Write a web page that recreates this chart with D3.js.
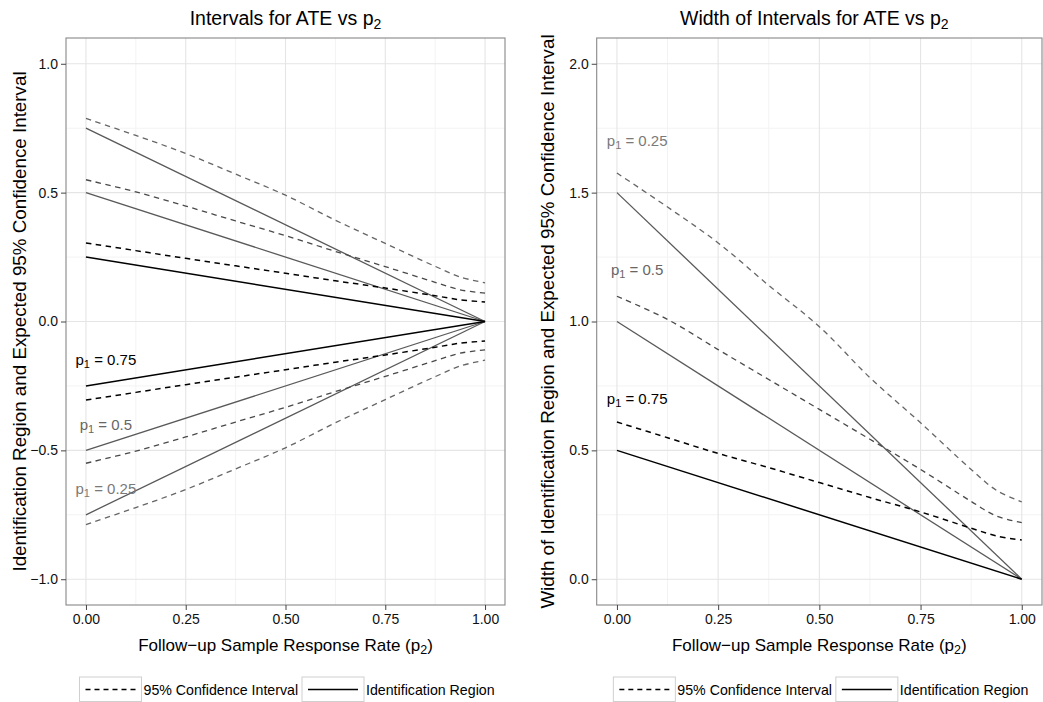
<!DOCTYPE html>
<html>
<head>
<meta charset="utf-8">
<script src="https://cdn.jsdelivr.net/npm/d3@7"></script>
<style>
  body { margin: 0; background: #fff; }
  svg { font-family: 'Liberation Sans', Arial, Helvetica, sans-serif; }
</style>
</head>
<body>
<svg width="1043" height="702"></svg>
<script>
// follow-up response rate grid the curves were read at
const p2 = [0, 0.125, 0.25, 0.375, 0.5, 0.625, 0.75, 0.875, 0.9375, 1];
const idP2 = [0, 1];
const p1Levels = ['0.25', '0.5', '0.75'];

// left panel: identification region bounds (straight lines)
const idUpper = { '0.25': [0.75, 0], '0.5': [0.5, 0], '0.75': [0.25, 0] };
const idLower = { '0.25': [-0.75, 0], '0.5': [-0.5, 0], '0.75': [-0.25, 0] };

// left panel: expected 95% CI bounds
const ciUpper25 = [0.788, 0.722, 0.652, 0.572, 0.49, 0.393, 0.303, 0.214, 0.173, 0.15];
const ciUpper50 = [0.55, 0.503, 0.448, 0.39, 0.333, 0.272, 0.213, 0.152, 0.123, 0.11];
const ciUpper75 = [0.305, 0.275, 0.245, 0.216, 0.187, 0.158, 0.13, 0.1, 0.084, 0.076];
const ciLower25 = [-0.788, -0.722, -0.652, -0.572, -0.49, -0.393, -0.303, -0.214, -0.173, -0.15];
const ciLower50 = [-0.55, -0.503, -0.448, -0.39, -0.333, -0.272, -0.213, -0.152, -0.123, -0.11];
const ciLower75 = [-0.305, -0.275, -0.245, -0.216, -0.187, -0.158, -0.13, -0.1, -0.084, -0.076];

// right panel: widths
const idWidth = { '0.25': [1.5, 0], '0.5': [1.0, 0], '0.75': [0.5, 0] };
const ciWidth25 = [1.576, 1.444, 1.305, 1.14, 0.98, 0.782, 0.607, 0.426, 0.345, 0.3];
const ciWidth50 = [1.098, 1.008, 0.891, 0.775, 0.659, 0.543, 0.426, 0.302, 0.245, 0.22];
const ciWidth75 = [0.61, 0.549, 0.488, 0.433, 0.375, 0.317, 0.261, 0.198, 0.168, 0.152];

const xTicks = [0, 0.25, 0.5, 0.75, 1];
const xMinor = [0.125, 0.375, 0.625, 0.875];
const leftTicks = [-1, -0.5, 0, 0.5, 1];
const leftMinor = [-0.75, -0.25, 0.25, 0.75];
const rightTicks = [0, 0.5, 1, 1.5, 2];
const rightMinor = [0.25, 0.75, 1.25, 1.75];

const leftLabelY = { '0.75': -0.15, '0.5': -0.4, '0.25': -0.65 };
const rightLabelY = { '0.75': 0.7, '0.5': 1.2, '0.25': 1.7 };

const solidColor = { '0.25': '#595959', '0.5': '#595959', '0.75': '#000' };
const dashColor = { '0.25': '#666', '0.5': '#4a4a4a', '0.75': '#000' };
const labelColor = { '0.25': '#7a7a7a', '0.5': '#666', '0.75': '#000' };

const TOP = 38;
const BOTTOM = 605;

const svg = d3.select('svg');

function drawPanel(opts) {
  const x = d3.scaleLinear().domain([-0.05, 1.05]).range([opts.left, opts.right]);
  const y = d3.scaleLinear().domain(opts.yDomain).range([BOTTOM, TOP]);
  const g = svg.append('g');

  g.append('rect')
    .attr('x', opts.left)
    .attr('y', TOP)
    .attr('width', opts.right - opts.left)
    .attr('height', BOTTOM - TOP)
    .attr('fill', '#fff');

  // grid
  g.selectAll('.vminor')
    .data(xMinor)
    .enter()
    .append('line')
    .attr('x1', (d) => x(d))
    .attr('x2', (d) => x(d))
    .attr('y1', TOP)
    .attr('y2', BOTTOM)
    .attr('stroke', '#f3f3f3')
    .attr('stroke-width', 1);
  g.selectAll('.hminor')
    .data(opts.minor)
    .enter()
    .append('line')
    .attr('x1', opts.left)
    .attr('x2', opts.right)
    .attr('y1', (d) => y(d))
    .attr('y2', (d) => y(d))
    .attr('stroke', '#f3f3f3')
    .attr('stroke-width', 1);
  g.selectAll('.vmajor')
    .data(xTicks)
    .enter()
    .append('line')
    .attr('x1', (d) => x(d))
    .attr('x2', (d) => x(d))
    .attr('y1', TOP)
    .attr('y2', BOTTOM)
    .attr('stroke', '#e5e5e5')
    .attr('stroke-width', 1.1);
  g.selectAll('.hmajor')
    .data(opts.ticks)
    .enter()
    .append('line')
    .attr('x1', opts.left)
    .attr('x2', opts.right)
    .attr('y1', (d) => y(d))
    .attr('y2', (d) => y(d))
    .attr('stroke', '#e5e5e5')
    .attr('stroke-width', 1.1);

  const line = d3
    .line()
    .x((d) => x(d[0]))
    .y((d) => y(d[1]))
    .curve(d3.curveCatmullRom);

  opts.series.forEach((s) => {
    g.append('path')
      .datum(d3.zip(s.xs, s.ys))
      .attr('d', line)
      .attr('fill', 'none')
      .attr('stroke', s.dashed ? dashColor[s.p1] : solidColor[s.p1])
      .attr('stroke-width', s.p1 === '0.75' ? 1.5 : 1.3)
      .attr('stroke-dasharray', s.dashed ? '5.5,4.5' : null);
  });

  // p1 labels
  p1Levels.forEach((p) => {
    const t = g
      .append('text')
      .attr('x', x(0.05))
      .attr('y', y(opts.labelY[p]) + 5)
      .attr('text-anchor', 'middle')
      .attr('font-size', 15)
      .attr('fill', labelColor[p]);
    t.append('tspan').text('p');
    t.append('tspan').attr('font-size', 11).attr('dy', 3).text('1');
    t.append('tspan').attr('dy', -3).text(' = ' + p);
  });

  g.append('rect')
    .attr('x', opts.left)
    .attr('y', TOP)
    .attr('width', opts.right - opts.left)
    .attr('height', BOTTOM - TOP)
    .attr('fill', 'none')
    .attr('stroke', '#888')
    .attr('stroke-width', 1.1);

  // axes
  const yAxis = g
    .append('g')
    .attr('transform', `translate(${opts.left},0)`)
    .call(d3.axisLeft(y).tickValues(opts.ticks).tickFormat(d3.format('.1f')).tickSize(5).tickPadding(3));
  const xAxis = g
    .append('g')
    .attr('transform', `translate(0,${BOTTOM})`)
    .call(d3.axisBottom(x).tickValues(xTicks).tickFormat(d3.format('.2f')).tickSize(5).tickPadding(4));
  [yAxis, xAxis].forEach((a) => {
    a.select('.domain').remove();
    a.selectAll('line').attr('stroke', '#444');
    a.selectAll('text')
      .attr('font-size', 14)
      .attr('font-family', 'Liberation Sans, Arial, sans-serif')
      .attr('fill', '#111');
  });

  const cx = (opts.left + opts.right) / 2;

  // title
  const title = svg
    .append('text')
    .attr('x', cx + opts.titleShift)
    .attr('y', 25)
    .attr('text-anchor', 'middle')
    .attr('font-size', 19.5)
    .attr('fill', '#000');
  title.append('tspan').text(opts.title + ' vs p');
  title.append('tspan').attr('font-size', 14).attr('dy', 4).text('2');

  // x axis title
  const xt = svg
    .append('text')
    .attr('x', cx)
    .attr('y', 651)
    .attr('text-anchor', 'middle')
    .attr('font-size', 17)
    .attr('fill', '#000');
  xt.append('tspan').text('Follow\u2212up Sample Response Rate (p');
  xt.append('tspan').attr('font-size', 12.5).attr('dy', 3).text('2');
  xt.append('tspan').attr('dy', -3).text(')');

  svg
    .append('text')
    .attr('transform', `translate(${opts.yTitleX},${(TOP + BOTTOM) / 2}) rotate(-90)`)
    .attr('text-anchor', 'middle')
    .attr('font-size', 18.8)
    .attr('fill', '#000')
    .text(opts.yTitle);

  // legend
  const keys = [
    { label: '95% Confidence Interval', dashed: true, off: -206 },
    { label: 'Identification Region', dashed: false, off: 16.5 },
  ];
  keys.forEach((k) => {
    const bx = cx + k.off;
    svg
      .append('rect')
      .attr('x', bx)
      .attr('y', 677)
      .attr('width', 62)
      .attr('height', 24.5)
      .attr('fill', '#fff')
      .attr('stroke', '#cfcfcf')
      .attr('stroke-width', 1);
    svg
      .append('line')
      .attr('x1', bx + 6)
      .attr('x2', bx + 56)
      .attr('y1', 689.5)
      .attr('y2', 689.5)
      .attr('stroke', '#000')
      .attr('stroke-width', 1.4)
      .attr('stroke-dasharray', k.dashed ? '5,4' : null);
    svg
      .append('text')
      .attr('x', bx + 64)
      .attr('y', 694.5)
      .attr('font-size', 14.2)
      .attr('fill', '#000')
      .text(k.label);
  });
}

const ciUpper = { '0.25': ciUpper25, '0.5': ciUpper50, '0.75': ciUpper75 };
const ciLower = { '0.25': ciLower25, '0.5': ciLower50, '0.75': ciLower75 };
const ciWidth = { '0.25': ciWidth25, '0.5': ciWidth50, '0.75': ciWidth75 };

const leftSeries = [];
const rightSeries = [];
p1Levels.forEach((p) => {
  leftSeries.push({ p1: p, dashed: true, xs: p2, ys: ciUpper[p] });
  leftSeries.push({ p1: p, dashed: true, xs: p2, ys: ciLower[p] });
  leftSeries.push({ p1: p, dashed: false, xs: idP2, ys: idUpper[p] });
  leftSeries.push({ p1: p, dashed: false, xs: idP2, ys: idLower[p] });
  rightSeries.push({ p1: p, dashed: true, xs: p2, ys: ciWidth[p] });
  rightSeries.push({ p1: p, dashed: false, xs: idP2, ys: idWidth[p] });
});

drawPanel({
  left: 66,
  right: 505,
  yDomain: [-1.1, 1.1],
  ticks: leftTicks,
  minor: leftMinor,
  labelY: leftLabelY,
  series: leftSeries,
  title: 'Intervals for ATE',
  titleShift: 0,
  yTitle: 'Identification Region and Expected 95% Confidence Interval',
  yTitleX: 26,
});

drawPanel({
  left: 596.7,
  right: 1042,
  yDomain: [-0.1, 2.1],
  ticks: rightTicks,
  minor: rightMinor,
  labelY: rightLabelY,
  series: rightSeries,
  title: 'Width of Intervals for ATE',
  titleShift: -5,
  yTitle: 'Width of Identification Region and Expected 95% Confidence Interval',
  yTitleX: 554,
});
</script>
</body>
</html>
